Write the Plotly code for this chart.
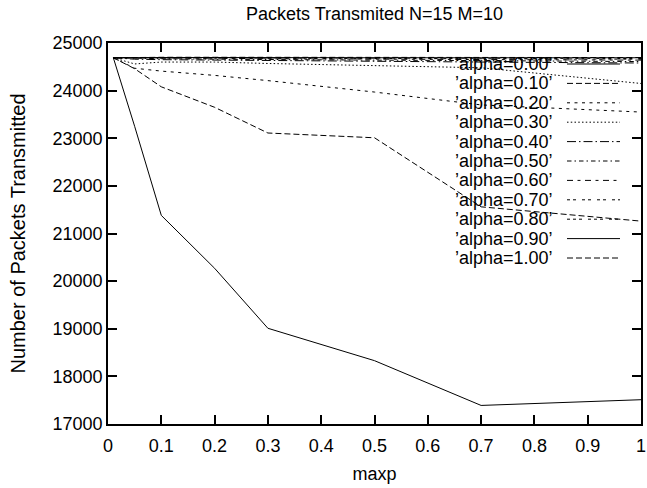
import plotly.graph_objects as go

# maxp values at which the simulation was run
maxp = [0.01, 0.05, 0.1, 0.2, 0.3, 0.5, 0.7, 1.0]

# packets transmitted for each alpha setting
alpha_labels = ["0.00", "0.10", "0.20", "0.30", "0.40", "0.50",
                "0.60", "0.70", "0.80", "0.90", "1.00"]
pkts_000 = [24690, 23250, 21380, 20270, 19010, 18330, 17390, 17510]
pkts_010 = [24690, 24460, 24080, 23650, 23110, 23010, 21560, 21260]
pkts_020 = [24690, 24470, 24410, 24320, 24210, 23970, 23700, 23550]
pkts_030 = [24690, 24560, 24600, 24600, 24570, 24530, 24480, 24150]
pkts_040 = [24690, 24660, 24650, 24640, 24630, 24620, 24600, 24580]
pkts_050 = [24690, 24680, 24670, 24660, 24650, 24640, 24630, 24610]
pkts_060 = [24690, 24690, 24680, 24680, 24670, 24660, 24650, 24640]
pkts_070 = [24690, 24690, 24690, 24685, 24680, 24675, 24670, 24660]
pkts_080 = [24690, 24690, 24690, 24690, 24690, 24685, 24680, 24675]
pkts_090 = [24690, 24695, 24695, 24695, 24690, 24690, 24690, 24690]
pkts_100 = [24690, 24700, 24700, 24700, 24700, 24700, 24695, 24695]

series = [pkts_000, pkts_010, pkts_020, pkts_030, pkts_040, pkts_050,
          pkts_060, pkts_070, pkts_080, pkts_090, pkts_100]

# gnuplot-style dash cycle (solid, dashed, short dash, dotted, dash-dot, ...)
dash_cycle = [
    "solid",
    "6px,3px",
    "3px,4.5px",
    "1.5px,2.25px",
    "9px,3px,1.5px,3px",
    "4.5px,3px,1.5px,3px",
    "6px,4.5px,3px,4.5px",
    "3px,3px,3px,6px",
    "3px,3px,3px,3px,3px,6px",
]

FONT = "Liberation Sans, Arial, Helvetica, sans-serif"
FS = 18

fig = go.Figure()
for i, (lab, ys) in enumerate(zip(alpha_labels, series)):
    fig.add_trace(go.Scatter(
        x=maxp, y=ys, mode="lines", name=f"'alpha={lab}'",
        line=dict(color="black", width=1, dash=dash_cycle[i % len(dash_cycle)]),
        showlegend=False,
    ))

# key drawn gnuplot-style: label on the left, line sample on the right
L, R, T, B = 108, 6, 43, 64
W, H = 647, 488
pw, ph = W - L - R, H - T - B
def px(x):
    return (x - L) / pw
def py(y):
    return 1 - (y - T) / ph

annotations = []
shapes = []
for i, lab in enumerate(alpha_labels):
    yc = 64 + 19.4 * i
    annotations.append(dict(
        x=px(555), y=py(yc), xref="paper", yref="paper",
        text=f"\u2019alpha={lab}\u2019", showarrow=False,
        xanchor="right", yanchor="middle",
        font=dict(family=FONT, size=FS, color="black"),
    ))
    shapes.append(dict(
        type="line", xref="paper", yref="paper",
        x0=px(567), x1=px(620), y0=py(yc), y1=py(yc),
        line=dict(color="black", width=1, dash=dash_cycle[i % len(dash_cycle)]),
    ))

axis_common = dict(
    showline=True, linecolor="black", linewidth=1.5, mirror="ticks",
    ticks="inside", ticklen=9, tickwidth=1.5, tickcolor="black",
    showgrid=False, zeroline=False, automargin=False,
    tickfont=dict(family=FONT, size=FS, color="black"),
)

fig.update_layout(
    width=W, height=H,
    margin=dict(l=L, r=R, t=T, b=B),
    paper_bgcolor="white", plot_bgcolor="white",
    title=dict(text="Packets Transmited N=15 M=10", x=0.5, xref="paper",
               y=1 - 14 / H, yanchor="middle",
               font=dict(family=FONT, size=18, color="black")),
    xaxis=dict(range=[0, 1], dtick=0.1, tick0=0, ticklabelstandoff=5,
               title=dict(text="maxp", font=dict(family=FONT, size=FS, color="black"),
                          standoff=12),
               **axis_common),
    yaxis=dict(range=[17000, 25000], dtick=1000, tickformat="d",
               title=dict(text="Number of Packets Transmitted",
                          font=dict(family=FONT, size=20, color="black"),
                          standoff=22),
               **axis_common),
    annotations=annotations,
    shapes=shapes,
)

fig.write_html("out.html")
